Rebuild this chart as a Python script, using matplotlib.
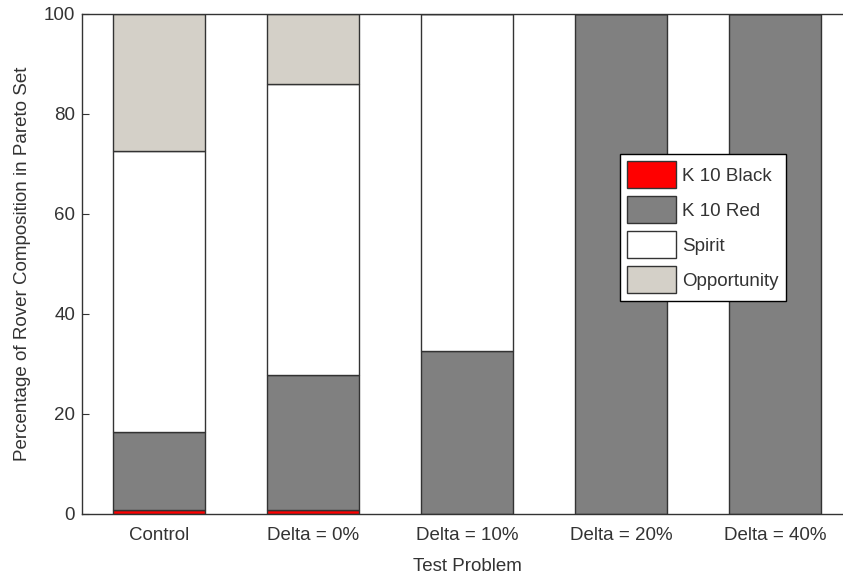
import matplotlib
matplotlib.use("Agg")
import matplotlib.pyplot as plt
import numpy as np

plt.rcParams['font.family'] = ['Liberation Sans', 'DejaVu Sans']

categories = ['Control', 'Delta = 0%', 'Delta = 10%', 'Delta = 20%', 'Delta = 40%']
k10_black = [0.8, 0.8, 0.0, 0.0, 0.0]
k10_red = [15.6, 26.9, 32.6, 100.0, 100.0]
spirit = [56.2, 58.2, 67.4, 0.0, 0.0]
opportunity = [27.4, 14.1, 0.0, 0.0, 0.0]

series = [
    ('K 10 Black', k10_black, '#ff0000'),
    ('K 10 Red', k10_red, '#808080'),
    ('Spirit', spirit, '#ffffff'),
    ('Opportunity', opportunity, '#d4d0c8'),
]

W, H = 843, 578
FS = 13.5
fig = plt.figure(figsize=(W / 100, H / 100), dpi=100)
ax = fig.add_axes([82 / W, 1 - 513.5 / H, 770 / W, 499.5 / H])

x = np.arange(1, len(categories) + 1)
bottom = np.zeros(len(categories))
handles = []
for name, vals, color in series:
    vals = np.array(vals)
    b = ax.bar(x, vals, width=0.6, bottom=bottom, color=color,
               edgecolor='#333333', linewidth=1.0, label=name)
    handles.append(b)
    bottom += vals

ax.set_xlim(0.5, 5.5)
ax.set_ylim(0, 100)
ax.set_xticks(x)
ax.set_xticklabels(categories)
ax.set_yticks([0, 20, 40, 60, 80, 100])

text_color = '#333333'
ax.tick_params(direction='in', length=5, width=0.8, colors='#333333',
               labelcolor=text_color, labelsize=FS)
ax.tick_params(axis='x', pad=9.5, length=0)
ax.tick_params(axis='y', pad=5)
for s in ax.spines.values():
    s.set_color('#333333')
    s.set_linewidth(1.0)

ax.set_xlabel('Test Problem', fontsize=FS, color=text_color, labelpad=10.5)
ax.set_ylabel('Percentage of Rover Composition in Pareto Set', fontsize=FS,
              color=text_color, labelpad=9)

# legend box placed at a fixed pixel spot inside the axes
leg_x, leg_y = 620, 154
bx = (leg_x - 82) / 770
by = (513.5 - leg_y) / 499.5
leg = ax.legend(handles=handles, loc='upper left', bbox_to_anchor=(bx, by),
                fontsize=FS, frameon=True, fancybox=False, framealpha=1,
                edgecolor='#000000', handlelength=2.6, handleheight=1.84,
                handletextpad=0.35, labelspacing=0.43, borderpad=0.38,
                borderaxespad=0)
leg.get_frame().set_linewidth(1.0)
for t in leg.get_texts():
    t.set_color(text_color)

fig.savefig('out.png', dpi=100)
